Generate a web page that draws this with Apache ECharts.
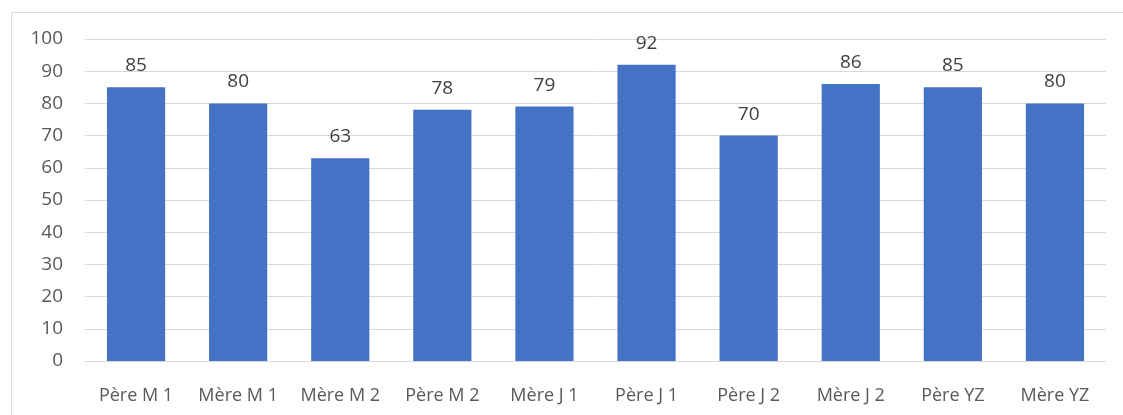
<!DOCTYPE html>
<html>
<head>
<meta charset="utf-8">
<script src="https://cdn.jsdelivr.net/npm/echarts@6/dist/echarts.min.js"></script>
<style>
  html, body { margin: 0; padding: 0; background: #fff; }
  #main { width: 1123px; height: 415px; }
</style>
</head>
<body>
<div id="main"></div>
<script>
// catégories et valeurs
var categories = ['Père M 1', 'Mère M 1', 'Mère M 2', 'Père M 2', 'Mère J 1', 'Père J 1', 'Père J 2', 'Mère J 2', 'Père YZ', 'Mère YZ'];
var values = [85, 80, 63, 78, 79, 92, 70, 86, 85, 80];

var chart = echarts.init(document.getElementById('main'));
var font = '"Open Sans", "Liberation Sans", sans-serif';

chart.setOption({
  animation: false,
  backgroundColor: '#fff',
  graphic: [{
    type: 'rect',
    left: 9, top: 10,
    shape: { width: 1300, height: 600 },
    style: { fill: 'none', stroke: '#d9d9d9', lineWidth: 1 },
    silent: true
  }],
  grid: { left: 85, right: 17, top: 39, bottom: 54 },
  xAxis: {
    type: 'category',
    data: categories,
    axisLine: { lineStyle: { color: '#d9d9d9' } },
    axisTick: { show: false },
    axisLabel: { interval: 0, hideOverlap: false, color: '#595959', fontFamily: font, fontSize: 18, margin: 26 }
  },
  yAxis: {
    type: 'value',
    min: 0, max: 100, interval: 10,
    axisLine: { show: false },
    axisTick: { show: false },
    splitLine: { lineStyle: { color: '#d9d9d9' } },
    axisLabel: { color: '#595959', fontFamily: font, fontSize: 19, margin: 22 }
  },
  series: [{
    type: 'bar',
    data: values,
    barWidth: '57%',
    itemStyle: { color: '#4472c4' },
    label: {
      show: true, position: 'top', distance: 12,
      color: '#404040', fontFamily: font, fontSize: 19
    }
  }]
});
</script>
</body>
</html>
